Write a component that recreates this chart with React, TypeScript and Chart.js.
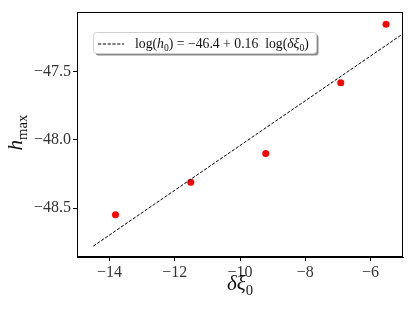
import React, { useEffect, useRef } from 'react';
import { Chart, registerables } from 'chart.js';

Chart.register(...registerables);

// Data
const xValues = [-13.82, -11.51, -9.21, -6.91, -5.52];
const yValues = [-48.55, -48.31, -48.1, -47.58, -47.15];
const fitX = [-14.5, -5];
const fitY = [-48.78, -47.22];
const xTicks = [-14, -12, -10, -8, -6];
const yTicks = [-48.5, -48.0, -47.5];
const xRange = [-15, -5];
const yRange = [-48.86, -47.06];
const legendLabel = [
  { t: 'log(' },
  { t: 'h', italic: true },
  { t: '0', sub: true },
  { t: ') = \u221246.4 + 0.16  log(' },
  { t: '\u03b4\u03be', italic: true },
  { t: '0', sub: true },
  { t: ')' },
];
const xTitle = [{ t: '\u03b4\u03be', italic: true }, { t: '0', sub: true }];
const yTitle = [{ t: 'h', italic: true }, { t: 'max', sub: true }];

const FONT = '"Liberation Serif", "DejaVu Serif", serif';

type Seg = { t: string; italic?: boolean; sub?: boolean };

function segFont(s: Seg, size: number) {
  const fs = s.sub ? size * 0.7 : size;
  return `${s.italic ? 'italic ' : ''}${fs}px ${FONT}`;
}
function measureRich(ctx: CanvasRenderingContext2D, segs: Seg[], size: number) {
  let w = 0;
  for (const s of segs) {
    ctx.font = segFont(s, size);
    w += ctx.measureText(s.t).width;
  }
  return w;
}
function drawRich(ctx: CanvasRenderingContext2D, segs: Seg[], x: number, y: number, size: number) {
  let cx = x;
  ctx.textAlign = 'left';
  ctx.textBaseline = 'alphabetic';
  for (const s of segs) {
    ctx.font = segFont(s, size);
    ctx.fillText(s.t, cx, y + (s.sub ? size * 0.22 : 0));
    cx += ctx.measureText(s.t).width;
  }
}
function minusFmt(v: number, dec: number) {
  const s = Math.abs(v).toFixed(dec);
  return (v < 0 ? '\u2212' : '') + s;
}

const decorPlugin = {
  id: 'decor',
  afterDraw(chart: any) {
    const ctx: CanvasRenderingContext2D = chart.ctx;
    const a = chart.chartArea;
    ctx.save();
    // frame
    ctx.strokeStyle = '#000';
    ctx.lineWidth = 1;
    ctx.strokeRect(Math.round(a.left) + 0.5, Math.round(a.top) + 0.5, Math.round(a.right - a.left) - 1, Math.round(a.bottom - a.top) - 1);

    // legend
    const lx = 93, ly = 32, lw = 223, lh = 21, r = 3;
    const rr = (x: number, y: number) => {
      ctx.beginPath();
      ctx.roundRect(x, y, lw, lh, r);
    };
    ctx.fillStyle = '#8a8a8a';
    rr(lx + 2.5, ly + 2.5);
    ctx.fill();
    ctx.fillStyle = '#fff';
    rr(lx + 0.5, ly + 0.5);
    ctx.fill();
    ctx.strokeStyle = '#cfcfcf';
    ctx.stroke();
    ctx.strokeStyle = '#000';
    ctx.lineWidth = 1;
    ctx.setLineDash([3.2, 1.6]);
    ctx.beginPath();
    ctx.moveTo(98, 44);
    ctx.lineTo(124, 44);
    ctx.stroke();
    ctx.setLineDash([]);
    ctx.fillStyle = '#111';
    const baseSize = 13;
    const w0 = measureRich(ctx, legendLabel as Seg[], baseSize);
    const ls = Math.min(15, baseSize * 174 / w0);
    drawRich(ctx, legendLabel as Seg[], 135, 47.5, ls);

    // axis titles
    ctx.fillStyle = '#111';
    const xs = 21;
    const xw = measureRich(ctx, xTitle as Seg[], xs);
    drawRich(ctx, xTitle as Seg[], (a.left + a.right) / 2 - xw / 2, 290, xs);

    ctx.save();
    ctx.translate(22, (a.top + a.bottom) / 2 - 2);
    ctx.rotate(-Math.PI / 2);
    const yw = measureRich(ctx, yTitle as Seg[], xs);
    drawRich(ctx, yTitle as Seg[], -yw / 2, 0, xs);
    ctx.restore();
    ctx.restore();
  },
};

export default function App() {
  const ref = useRef<HTMLCanvasElement>(null);
  useEffect(() => {
    document.body.style.margin = '0';
    const canvas = ref.current!;
    const chart = new Chart(canvas, {
      type: 'scatter',
      data: {
        datasets: [
          {
            type: 'line',
            data: fitX.map((x, i) => ({ x, y: fitY[i] })),
            borderColor: '#000',
            borderWidth: 1,
            borderDash: [3.2, 1.6],
            pointRadius: 0,
            fill: false,
          } as any,
          {
            type: 'scatter',
            data: xValues.map((x, i) => ({ x, y: yValues[i] })),
            backgroundColor: '#ff0000',
            borderColor: '#ff0000',
            pointRadius: 3.5,
            borderWidth: 0,
          },
        ],
      },
      options: {
        animation: false,
        responsive: false,
        devicePixelRatio: 1,
        layout: { padding: { left: 0, top: 12, right: 12, bottom: 0 } },
        plugins: { legend: { display: false }, tooltip: { enabled: false } },
        scales: {
          x: {
            type: 'linear',
            min: xRange[0],
            max: xRange[1],
            afterBuildTicks: (s: any) => {
              s.ticks = xTicks.map((v) => ({ value: v }));
            },
            afterFit: (s: any) => {
              s.height = 54;
            },
            grid: { drawOnChartArea: false, drawTicks: true, tickLength: 4, color: '#000' },
            border: { display: true, color: '#000', width: 1 },
            ticks: {
              color: '#333',
              padding: 2,
              font: { family: FONT, size: 16 },
              maxRotation: 0,
              callback: (v: any) => minusFmt(Number(v), 0),
            },
          },
          y: {
            type: 'linear',
            min: yRange[0],
            max: yRange[1],
            afterBuildTicks: (s: any) => {
              s.ticks = yTicks.map((v) => ({ value: v }));
            },
            afterFit: (s: any) => {
              s.width = 77;
            },
            grid: { drawOnChartArea: false, drawTicks: true, tickLength: 4, color: '#000' },
            border: { display: true, color: '#000', width: 1 },
            ticks: {
              color: '#333',
              padding: 2,
              font: { family: FONT, size: 16 },
              callback: (v: any) => minusFmt(Number(v), 1),
            },
          },
        },
      },
      plugins: [decorPlugin],
    });
    return () => chart.destroy();
  }, []);
  return <canvas ref={ref} width={415} height={311} style={{ display: 'block', width: 415, height: 311 }} />;
}
